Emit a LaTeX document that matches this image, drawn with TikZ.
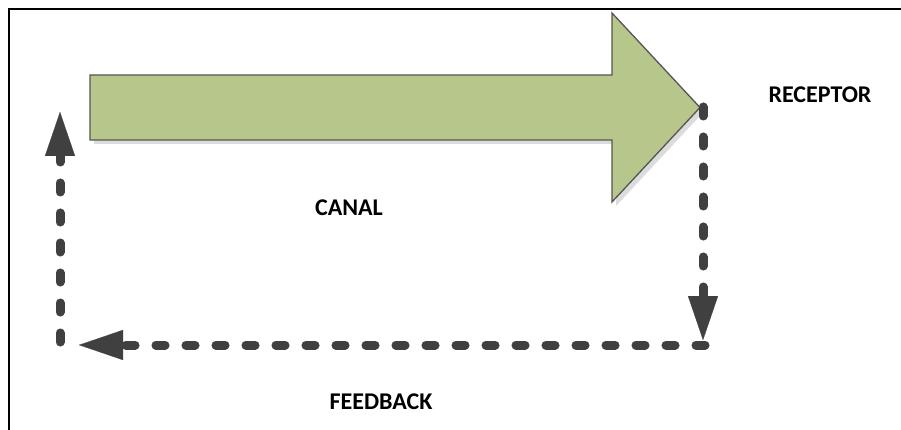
\documentclass[tikz,border=0pt]{standalone}
\usepackage{fontspec}
\setmainfont{Carlito}
\usetikzlibrary{arrows.meta}
\definecolor{arrowgreen}{RGB}{183,199,139}
\definecolor{arrowedge}{RGB}{85,85,85}
\definecolor{darkline}{RGB}{64,64,64}
\definecolor{shadowgray}{RGB}{220,220,220}
\begin{document}
\begin{tikzpicture}[x=1pt,y=-1pt,
  lbl/.style={font=\bfseries\fontsize{24}{24}\selectfont, inner sep=0pt, text=black},
  flowbase/.style={line width=9pt, line cap=round, dash pattern=on 9pt off 21pt,
    -{Triangle[length=44pt,width=30pt,line width=0.1pt]}},
  flow/.style={flowbase, draw=darkline},
  flowshadow/.style={flowbase, draw=shadowgray, shift={(3,3)}}]
\useasboundingbox (0,0) rectangle (901,430);
% frame (only top and left edges visible)
\draw[line width=2.5pt] (9,431) -- (9,9) -- (902,9);
% big green arrow (channel)
\fill[shadowgray] (94,79) -- (616,79) -- (616,17) -- (704,111.5) -- (616,206) -- (616,144) -- (94,144) -- cycle;
\draw[arrowedge, fill=arrowgreen, line width=1.3pt, line join=miter]
  (90,75) -- (612,75) -- (612,13) -- (700,107.5) -- (612,202) -- (612,140) -- (90,140) -- cycle;
% connector end points
\coordinate (rtop) at (703,107);
\coordinate (rbot) at (703,340);
\coordinate (hstart) at (705,345);
\coordinate (hend) at (79,345);
\coordinate (lbot) at (60,342);
\coordinate (ltop) at (60,112);
% shadows
\draw[flowshadow] (rtop) -- (rbot);
\draw[flowshadow] (hstart) -- (hend);
\draw[flowshadow] (lbot) -- (ltop);
% dashed connectors
\draw[flow] (rtop) -- (rbot);
\draw[flow] (hstart) -- (hend);
\draw[flow] (lbot) -- (ltop);
% labels
\node[lbl] (receptor) at (820,95) {RECEPTOR};
\node[lbl] (canal) at (349,208) {CANAL};
\node[lbl] (feedback) at (381,402) {FEEDBACK};
\end{tikzpicture}
\end{document}
